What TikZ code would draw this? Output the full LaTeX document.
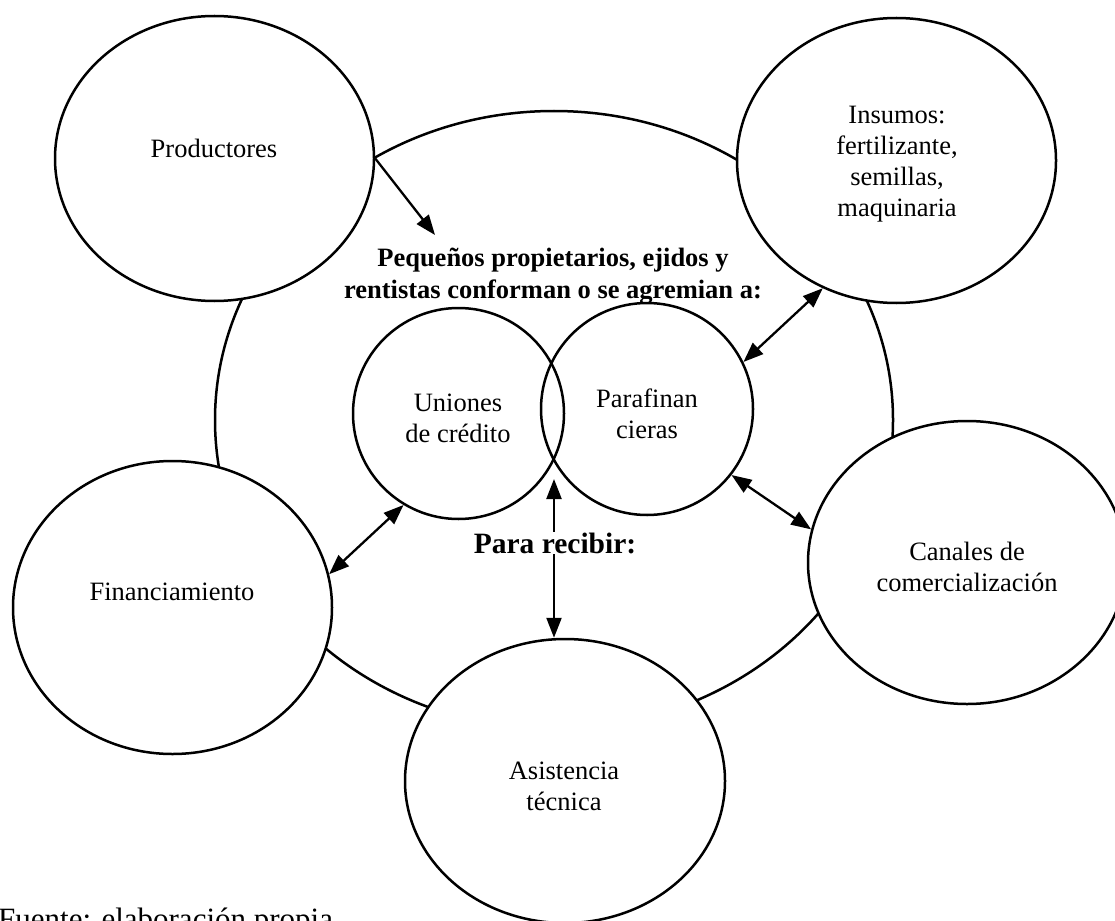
\documentclass[tikz,border=0pt]{standalone}
\usepackage{fontspec}
\setmainfont{Liberation Serif}
\usetikzlibrary{shapes.geometric,arrows.meta}
\begin{document}
\begin{tikzpicture}[x=1pt,y=-1pt,
  bubble/.style={ellipse,draw,line width=2.5pt,fill=white,inner sep=0pt,
                 minimum width=319pt,minimum height=285pt},
  ring/.style={circle,draw,line width=2.5pt,inner sep=0pt,minimum size=211pt},
  lbl/.style={align=center,font=\fontsize{26.5}{31}\selectfont,inner sep=0pt},
  head/.style={align=center,font=\fontsize{26.5}{32}\selectfont\bfseries,inner sep=0pt},
  arr/.style={line width=2.3pt,-{Triangle[length=20pt,width=15pt]}},
  biarr/.style={line width=2.3pt,{Triangle[length=20pt,width=15pt]}-{Triangle[length=20pt,width=15pt]}}
]
\useasboundingbox (0,0) rectangle (1115,920);
\clip (0,0) rectangle (1115,920);

% central field holding the associations
\node[ellipse,draw,line width=2.5pt,inner sep=0pt,minimum width=678pt,minimum height=618pt] (field) at (554,420) {};

% the two overlapping associations
\node[ring] (uni) at (458.5,413.5) {};
\node[ring,minimum size=212pt] (para) at (647,409) {};
\node[lbl] (unitxt) at (458,418) {Uniones\\de crédito};
\node[lbl] (paratxt) at (647,414) {Parafinan\\cieras};

% outer actors
\node[bubble] (prod) at (214.5,158.5) {};
\node[bubble] (ins) at (896.5,160.5) {};
\node[bubble,minimum height=293pt] (fin) at (172.5,607.5) {};
\node[bubble,minimum width=318pt,minimum height=283pt] (can) at (967,562.5) {};
\node[bubble,minimum width=320pt,minimum height=284pt] (asis) at (565,781) {};

\node[lbl] (prodtxt) at (214,148) {Productores};
\node[lbl] (instxt) at (897,164) {Insumos:\\fertilizante,\\semillas,\\maquinaria};
\node[lbl] (fintxt) at (172,592) {Financiamiento};
\node[lbl] (cantxt) at (967,567) {Canales de\\comercialización};
\node[lbl] (asistxt) at (564,786) {Asistencia\\técnica};

% heading inside the field
\node[head] (title) at (553,276) {Pequeños propietarios, ejidos y\\rentistas conforman o se agremian a:};

% connectors
\coordinate (ptip) at (435,235);
\draw[arr] (prod.east) -- (ptip);
\draw[biarr] (para.26) -- (ins.240);
\draw[biarr] (para.-38) -- (can.168);
\draw[biarr] (uni.239) -- (fin.12);
\coordinate (vtop) at (554,479);
\draw[biarr] (vtop) -- (vtop |- asis.north);

\node[font=\fontsize{29.5}{34}\selectfont\bfseries,fill=white,inner sep=1pt,anchor=base] (recv) at (555,553) {Para recibir:};

\node[font=\fontsize{31}{36}\selectfont,inner sep=0pt,anchor=north west] (src) at (-2,908) {Fuente: elaboración propia};
\end{tikzpicture}
\end{document}
